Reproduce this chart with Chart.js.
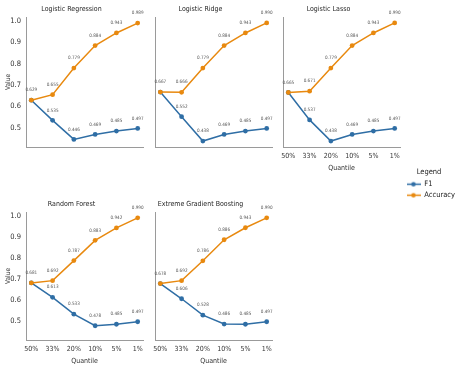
<!DOCTYPE html>
<html>
<head>
<meta charset="utf-8">
<script src="https://cdn.jsdelivr.net/npm/chart.js@4.4.0/dist/chart.umd.min.js"></script>
<style>
  html, body { margin: 0; padding: 0; background: #fff; }
  #wrap { position: relative; width: 456px; height: 372px; overflow: hidden; }
  #wrap canvas { position: absolute; }
</style>
</head>
<body>
<div id="wrap"></div>
<script>
// categories and values
const quantiles = ["50%", "33%", "20%", "10%", "5%", "1%"];
const yTickValues = [0.5, 0.6, 0.7, 0.8, 0.9, 1.0];

const lrAccuracy = [0.629, 0.655, 0.779, 0.884, 0.943, 0.989];
const lrF1 = [0.629, 0.535, 0.446, 0.469, 0.485, 0.497];
const ridgeAccuracy = [0.667, 0.666, 0.779, 0.884, 0.943, 0.990];
const ridgeF1 = [0.667, 0.552, 0.438, 0.469, 0.485, 0.497];
const lassoAccuracy = [0.665, 0.671, 0.779, 0.884, 0.943, 0.990];
const lassoF1 = [0.665, 0.537, 0.438, 0.469, 0.485, 0.497];
const rfAccuracy = [0.681, 0.692, 0.787, 0.883, 0.942, 0.990];
const rfF1 = [0.681, 0.613, 0.533, 0.478, 0.485, 0.497];
const xgbAccuracy = [0.678, 0.692, 0.786, 0.886, 0.943, 0.990];
const xgbF1 = [0.678, 0.606, 0.528, 0.486, 0.485, 0.497];

const FONT = '"Liberation Sans Narrow", "DejaVu Sans Condensed", "Liberation Sans", Arial, sans-serif';
const F1_COLOR = "#2f6ea5";
const ACC_COLOR = "#e8890f";
const AXIS_COLOR = "#9a9a9a";
const TEXT_COLOR = "#333";

// shared y range, 5% margin like matplotlib
const allValues = [].concat(lrAccuracy, lrF1, ridgeAccuracy, ridgeF1, lassoAccuracy, lassoF1,
  rfAccuracy, rfF1, xgbAccuracy, xgbF1);
const vMin = Math.min(...allValues), vMax = Math.max(...allValues);
const yMin = vMin - (vMax - vMin) * 0.05;
const yMax = vMax + (vMax - vMin) * 0.05;

const PLOT_W = 117;
const Y_AXIS_W = 26;
const X_AXIS_H = 28;
const TITLE_H = 17;
const PAD_R = 8;

const panels = [
  { title: "Logistic Regression", acc: lrAccuracy, f1: lrF1, left: 26, top: 17, bottom: 147, yLabels: true, xLabels: false },
  { title: "Logistic Ridge", acc: ridgeAccuracy, f1: ridgeF1, left: 155, top: 17, bottom: 147, yLabels: false, xLabels: false },
  { title: "Logistic Lasso", acc: lassoAccuracy, f1: lassoF1, left: 283, top: 17, bottom: 147, yLabels: false, xLabels: true },
  { title: "Random Forest", acc: rfAccuracy, f1: rfF1, left: 26, top: 212, bottom: 340, yLabels: true, xLabels: true },
  { title: "Extreme Gradient Boosting", acc: xgbAccuracy, f1: xgbF1, left: 155, top: 212, bottom: 340, yLabels: false, xLabels: true },
];

const wrap = document.getElementById("wrap");

function makeCanvas(x, y, w, h) {
  const c = document.createElement("canvas");
  c.width = w;
  c.height = h;
  c.style.left = x + "px";
  c.style.top = y + "px";
  c.style.width = w + "px";
  c.style.height = h + "px";
  wrap.appendChild(c);
  return c;
}

// value labels above each marker
const valueLabels = {
  id: "valueLabels",
  afterDatasetsDraw(chart) {
    const ctx = chart.ctx;
    ctx.save();
    ctx.font = "4.6px " + FONT;
    ctx.fillStyle = "#555";
    ctx.textAlign = "center";
    ctx.textBaseline = "middle";
    chart.data.datasets.forEach((ds, di) => {
      const meta = chart.getDatasetMeta(di);
      meta.data.forEach((pt, i) => {
        if (ds.label === "F1" && i === 0) return; // same value as accuracy there
        ctx.fillText(ds.data[i].y.toFixed(3), pt.x, pt.y - 10);
      });
    });
    ctx.restore();
  }
};

panels.forEach(p => {
  const w = Y_AXIS_W + PLOT_W + PAD_R;
  const h = TITLE_H + (p.bottom - p.top) + X_AXIS_H;
  const canvas = makeCanvas(p.left - Y_AXIS_W, p.top - TITLE_H, w, h);

  new Chart(canvas, {
    type: "line",
    data: {
      datasets: [
        {
          label: "F1",
          data: p.f1.map((v, i) => ({ x: i, y: v })),
          borderColor: F1_COLOR,
          backgroundColor: F1_COLOR,
          order: 2,
        },
        {
          label: "Accuracy",
          data: p.acc.map((v, i) => ({ x: i, y: v })),
          borderColor: ACC_COLOR,
          backgroundColor: ACC_COLOR,
          order: 1,
        },
      ],
    },
    options: {
      responsive: false,
      animation: false,
      events: [],
      layout: { padding: { left: 0, right: PAD_R, top: 0, bottom: 0 } },
      elements: {
        line: { borderWidth: 1.5, tension: 0 },
        point: { radius: 2.4, borderWidth: 0 },
      },
      plugins: {
        legend: { display: false },
        tooltip: { enabled: false },
        title: {
          display: true,
          text: p.title,
          color: "#262626",
          font: { family: FONT, size: 7, weight: "normal" },
          padding: { top: 5, bottom: 3.6 },
        },
      },
      scales: {
        x: {
          type: "linear",
          min: -0.25,
          max: 5.25,
          grid: { display: false, drawTicks: false },
          border: { display: true, color: AXIS_COLOR, width: 1 },
          ticks: {
            display: p.xLabels,
            padding: 5,
            color: TEXT_COLOR,
            font: { family: FONT, size: 7 },
            maxRotation: 0,
            autoSkip: false,
            callback: (v) => quantiles[v],
          },
          title: {
            display: p.xLabels,
            text: "Quantile",
            color: TEXT_COLOR,
            font: { family: FONT, size: 7 },
            padding: { top: 0, bottom: 2.8 },
          },
          afterBuildTicks: (s) => { s.ticks = quantiles.map((q, i) => ({ value: i })); },
          afterFit: (s) => { s.height = X_AXIS_H; },
        },
        y: {
          type: "linear",
          min: yMin,
          max: yMax,
          grid: { display: false, drawTicks: false },
          border: { display: true, color: AXIS_COLOR, width: 1 },
          ticks: {
            display: p.yLabels,
            padding: 5,
            color: TEXT_COLOR,
            font: { family: FONT, size: 7.5 },
            callback: (v) => v.toFixed(1),
          },
          title: {
            display: p.yLabels,
            text: "Value",
            color: TEXT_COLOR,
            font: { family: FONT, size: 6.5 },
            padding: { top: 4.1, bottom: 0 },
          },
          afterBuildTicks: (s) => { s.ticks = yTickValues.map(v => ({ value: v })); },
          afterFit: (s) => { s.width = Y_AXIS_W; },
        },
      },
    },
    plugins: [valueLabels],
  });
});

// legend: line with a dot marker, like the seaborn handles
function swatch(color) {
  const c = document.createElement("canvas");
  c.width = 14;
  c.height = 7;
  const g = c.getContext("2d");
  g.strokeStyle = color;
  g.lineWidth = 1.5;
  g.beginPath();
  g.moveTo(0, 3.5);
  g.lineTo(14, 3.5);
  g.stroke();
  g.fillStyle = color;
  g.beginPath();
  g.arc(7, 3.5, 2.2, 0, Math.PI * 2);
  g.fill();
  return c;
}

const legendCanvas = makeCanvas(402.5, 168, 53.5, 100);
new Chart(legendCanvas, {
  type: "line",
  data: { datasets: [] },
  options: {
    responsive: false,
    animation: false,
    events: [],
    scales: { x: { display: false }, y: { display: false } },
    plugins: {
      tooltip: { enabled: false },
      legend: {
        display: true,
        position: "top",
        align: "start",
        title: {
          display: true,
          text: "Legend",
          color: "#222",
          font: { family: FONT, size: 7.5 },
          padding: { top: 0, bottom: 0 },
        },
        labels: {
          usePointStyle: true,
          pointStyleWidth: 14,
          boxHeight: 8,
          padding: 3.5,
          color: "#222",
          font: { family: FONT, size: 7.5 },
          generateLabels: () => [
            { text: "F1", pointStyle: swatch(F1_COLOR), fillStyle: F1_COLOR, strokeStyle: F1_COLOR, lineWidth: 0, hidden: false, datasetIndex: 0 },
            { text: "Accuracy", pointStyle: swatch(ACC_COLOR), fillStyle: ACC_COLOR, strokeStyle: ACC_COLOR, lineWidth: 0, hidden: false, datasetIndex: 1 },
          ],
        },
      },
    },
  },
});
</script>
</body>
</html>
